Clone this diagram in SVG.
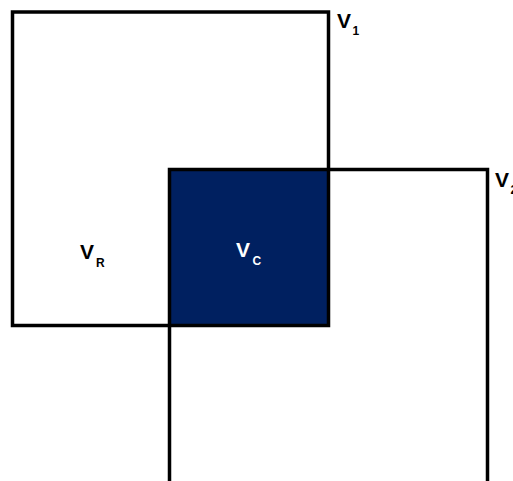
<svg xmlns="http://www.w3.org/2000/svg" width="513" height="481" viewBox="0 0 513 481">
<style>
.sq{fill:none;stroke:#000;stroke-width:3.5}
.v{font-family:"Liberation Sans",Arial,sans-serif;font-weight:bold;font-size:21px;fill:#000}
.s{font-size:12px}
</style>
<rect width="513" height="481" fill="#fff"/>
<g id="overlap"><rect x="169.5" y="169.5" width="159" height="156" fill="#002060"/></g>
<g id="connectors"></g>
<g id="V1"><rect class="sq" x="12.5" y="12" width="316" height="313.5"/>
<text class="v" x="337" y="28">V<tspan class="s" dx="1.5" dy="7">1</tspan></text></g>
<g id="V2"><path class="sq" d="M169.5,490 V169.5 H487.5 V490"/>
<text class="v" x="495" y="187">V<tspan class="s" dx="1.5" dy="7">2</tspan></text></g>
<g id="VR"><text class="v" x="80" y="259">V<tspan class="s" dx="2" dy="7.5">R</tspan></text></g>
<g id="VC"><text class="v" x="236" y="256.5" style="fill:#fff">V<tspan class="s" dx="2.5" dy="8">C</tspan></text></g>
</svg>
